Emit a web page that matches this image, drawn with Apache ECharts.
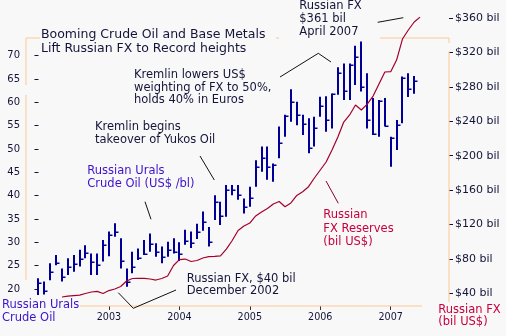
<!DOCTYPE html>
<html>
<head>
<meta charset="utf-8">
<script src="https://cdn.jsdelivr.net/npm/echarts@6/dist/echarts.min.js"></script>
<style>
  html, body { margin: 0; padding: 0; background: #f8f8f8; }
  #chart { width: 506px; height: 336px; }
</style>
</head>
<body>
<div id="chart"></div>
<script>
// Monthly Urals crude bars start in January 2002 (month index 0)
const firstYear = 2002;

// Urals crude, US$ per barrel: monthly high / low / close
const oilHigh = [
  22.3, 21.6, 25.5, 27.3, 24.4, 26.6, 27.3, 28.4, 29.4, 27.6, 27.6, 30.5,
  32.3, 34.1, 30.9, 24.4, 28.0, 28.7, 30.5, 31.9, 29.8, 29.1, 30.1, 30.9,
  30.0, 32.7, 32.3, 34.0, 36.6, 33.3, 40.1, 38.7, 42.3, 42.3, 42.3, 39.4,
  41.9, 47.6, 50.5, 50.5, 46.9, 54.8, 57.3, 62.8, 60.1, 57.3, 56.6, 56.9,
  61.2, 61.3, 61.9, 67.5, 68.3, 68.3, 72.1, 73.0, 66.2, 60.9, 60.5, 60.9,
  52.6, 56.2, 65.5, 66.2, 65.6
];
const oilLow = [
  18.7, 18.8, 21.9, 25.1, 21.6, 23.0, 23.7, 24.8, 26.6, 23.0, 23.0, 25.9,
  27.0, 31.2, 24.4, 20.5, 23.4, 26.2, 27.3, 28.0, 26.9, 25.5, 26.9, 27.6,
  26.0, 29.5, 28.8, 30.7, 32.5, 29.1, 34.8, 33.7, 35.5, 40.1, 39.1, 36.2,
  37.6, 41.9, 45.1, 43.4, 43.0, 48.0, 52.6, 55.8, 55.1, 53.0, 49.1, 50.5,
  56.9, 53.7, 54.4, 61.6, 60.5, 60.5, 63.7, 62.3, 54.4, 53.0, 52.6, 54.8,
  46.2, 49.8, 55.5, 61.1, 61.8
];
const oilClose = [
  21.2, 19.6, 23.7, 25.5, 22.5, 24.8, 25.3, 26.4, 27.8, 25.7, 25.1, 29.4,
  31.6, 32.3, 26.1, 21.6, 24.8, 26.6, 27.6, 29.6, 28.0, 26.9, 28.4, 28.0,
  27.4, 30.3, 29.8, 32.3, 34.4, 30.1, 38.6, 35.6, 41.2, 41.2, 40.1, 37.6,
  39.4, 46.2, 48.0, 46.2, 46.5, 51.3, 57.0, 60.1, 57.3, 55.3, 50.1, 54.4,
  59.2, 56.2, 61.8, 66.2, 62.4, 68.0, 69.6, 63.3, 56.2, 53.3, 60.2, 54.9,
  52.3, 55.1, 65.3, 62.8, 64.6
];

// Russian FX reserves, bil US$, monthly from May 2002 (month index 4)
const fxStartMonth = 4;
const fxReserves = [
  35.9, 36.9, 37.5, 38.1, 40.0, 41.7, 42.4, 40.0,
  43.4, 45.2, 48.1, 54.5, 57.4, 57.7, 57.6, 56.8, 55.6, 57.4, 60.3, 72.5,
  79.4, 80.0, 77.1, 78.3, 81.2, 82.8, 83.2, 83.7, 91.6, 101.5, 113.1, 118.3,
  121.8, 130.0, 134.6, 138.7, 143.9, 146.8, 140.8, 145.1, 153.8, 158.2, 164.0, 174.1,
  183.4, 192.7, 206.6, 221.7, 239.1, 247.3, 258.9, 253.1, 260.0, 269.3, 283.3, 297.2,
  297.6, 311.1, 335.5, 346.0, 355.3, 361
];

// Axis ticks
const oilTicks = [20, 25, 30, 35, 40, 45, 50, 55, 60, 65, 70];
const fxTicks = [40, 80, 120, 160, 200, 240, 280, 320, 360];
const yearLabels = ['2003', '2004', '2005', '2006', '2007'];

const yearTickPos = yearLabels.map(y => (Number(y) - firstYear) * 12);
const barData = oilHigh.map((h, i) => [i, h, oilLow[i], oilClose[i]]);
const fxData = fxReserves.map((v, i) => [fxStartMonth + i, v]);

const BAR = '#000099';
const FXRED = '#a3002c';
const FRAME = '#ffc893';
const INK = '#14143a';
const OILBLUE = '#3d12cc';
const FXLABEL = '#c8003c';
const FONT = '"DejaVu Sans", Verdana, sans-serif';

function txt(text, x, y, size, color, lh) {
  return {
    type: 'text', z: 10,
    style: { text: text, x: x, y: y, fill: color, font: size + 'px ' + FONT, lineHeight: lh, verticalAlign: 'top' }
  };
}
function seg(points, color, w, z) {
  return {
    type: 'polyline', z: z || 1, silent: true,
    shape: { points: points },
    style: { stroke: color, lineWidth: w || 1, fill: null }
  };
}

const chart = echarts.init(document.getElementById('chart'), null, { renderer: 'canvas' });

chart.setOption({
  backgroundColor: '#f8f8f8',
  animation: false,
  grid: { left: 26, right: 57, top: 17, bottom: 34, containLabel: false, outerBoundsMode: 'none' },
  xAxis: {
    type: 'value', min: -2.129, max: 69.93, offset: 4,
    axisLine: { show: false },
    splitLine: { show: false },
    axisTick: { show: true, length: 4, customValues: yearTickPos, lineStyle: { color: '#333' } },
    axisLabel: {
      customValues: yearTickPos, margin: 6,
      formatter: v => yearLabels[v / 12 - 1],
      fontFamily: FONT, fontSize: 9.6, color: INK
    }
  },
  yAxis: [
    {
      type: 'value', position: 'left', min: 17.22, max: 78.26,
      axisLine: { show: false }, splitLine: { show: false },
      axisTick: { show: true, length: 4, customValues: oilTicks, lineStyle: { color: INK } },
      axisLabel: { customValues: oilTicks, margin: 6, fontFamily: FONT, fontSize: 10, color: INK }
    },
    {
      type: 'value', position: 'right', min: 30.1, max: 361.1,
      axisLine: { show: false }, splitLine: { show: false },
      axisTick: { show: true, length: 4, customValues: fxTicks, lineStyle: { color: INK } },
      axisLabel: {
        customValues: fxTicks, margin: 6, fontFamily: FONT, fontSize: 11, color: INK,
        formatter: v => '$' + v + ' bil'
      }
    }
  ],
  series: [
    {
      name: 'Russian Urals Crude Oil', type: 'custom', yAxisIndex: 0, z: 3,
      data: barData,
      encode: { x: 0, y: [1, 2, 3] },
      renderItem: function (params, api) {
        const x = api.value(0);
        const pH = api.coord([x, api.value(1)]);
        const pL = api.coord([x, api.value(2)]);
        const pC = api.coord([x, api.value(3)]);
        const cx = Math.round(pH[0]);
        const cy = Math.round(pC[1]) + 0.25;
        return {
          type: 'group',
          children: [
            { type: 'line', shape: { x1: cx, y1: pH[1], x2: cx, y2: pL[1] }, style: { stroke: BAR, lineWidth: 2 } },
            { type: 'line', shape: { x1: cx, y1: cy, x2: cx + 3.5, y2: cy }, style: { stroke: BAR, lineWidth: 1.5 } }
          ]
        };
      }
    },
    {
      name: 'Russian FX Reserves', type: 'line', yAxisIndex: 1, z: 4,
      data: fxData, symbol: 'none', clip: false,
      lineStyle: { color: FXRED, width: 1.2 }
    }
  ],
  graphic: [
    // plot frame
    seg([[26, 85], [26, 38], [40, 38]], FRAME),
    seg([[276, 38], [279, 38]], FRAME),
    seg([[380, 38], [449, 38], [449, 43]], FRAME),
    seg([[449, 51.5], [449, 302]], FRAME),
    seg([[26, 95], [26, 280]], FRAME),
    seg([[80, 306], [422, 306]], FRAME),

    // annotation pointers
    seg([[145, 201.7], [151, 219.3]], '#111', 1, 5),
    seg([[200, 156], [214.3, 180]], '#111', 1, 5),
    seg([[280, 77], [318.3, 53.3], [331, 62]], '#111', 1, 5),
    seg([[377.7, 22.3], [403.3, 17.7]], '#111', 1, 5),
    seg([[326, 181], [338.3, 203.3]], '#8a0024', 1, 5),
    seg([[118.3, 292.7], [133.3, 308.3], [176, 290]], '#111', 1, 5),

    // texts
    txt('Booming Crude Oil and Base Metals\nLift Russian FX to Record heights', 41, 27.5, 12.5, INK, 14),
    txt('Kremlin lowers US$\nweighting of FX to 50%,\nholds 40% in Euros', 134, 69, 11.5, INK, 12.5),
    txt('Kremlin begins\ntakeover of Yukos Oil', 95, 120.5, 11.5, INK, 13.3),
    txt('Russian Urals\nCrude Oil (US$ /bl)', 87.3, 165.3, 11.5, OILBLUE, 12.3),
    txt('Russian FX, $40 bil\nDecember 2002', 186.7, 272.5, 11.5, INK, 12.4),
    txt('Russian Urals\nCrude Oil', 2, 299, 11.5, OILBLUE, 12.7),
    txt('Russian FX\n$361 bil\nApril 2007', 299.3, 0, 11.5, INK, 12.8),
    txt('Russian\nFX Reserves\n(bil US$)', 323.3, 208.8, 11.5, FXLABEL, 13.3),
    txt('Russian FX\n(bil US$)', 438.3, 303.5, 11.5, FXLABEL, 12.4)
  ]
});
</script>
</body>
</html>
